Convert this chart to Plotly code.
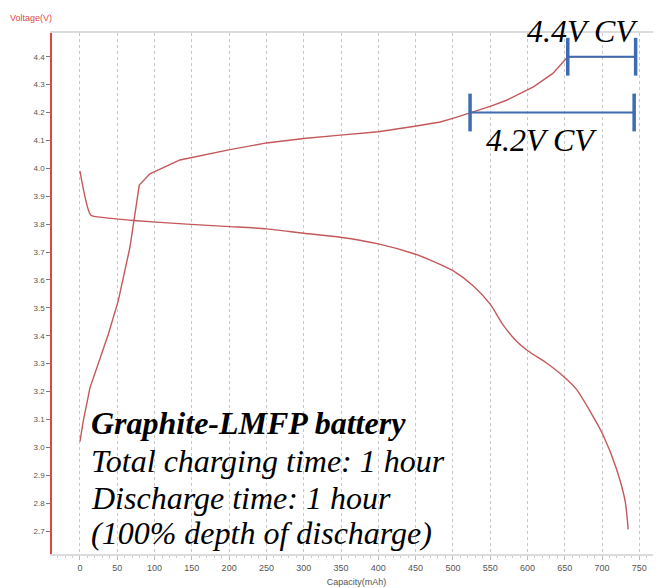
import plotly.graph_objects as go

# Charge curve (capacity mAh, voltage V)
charge_cap = [0, 4.4, 13.4, 26.8, 38, 51.3, 67, 79.5, 93.8, 134, 201, 250, 300, 349, 400,
              449, 483, 500, 523, 550, 572, 608, 634, 654, 700, 745]
charge_v = [3.02, 3.094, 3.213, 3.321, 3.405, 3.525, 3.717, 3.94, 3.98, 4.03, 4.067, 4.091,
            4.107, 4.119, 4.131, 4.151, 4.166, 4.179, 4.198, 4.222, 4.244, 4.292, 4.34, 4.40,
            4.40, 4.40]

# Discharge curve
discharge_cap = [0, 14.3, 26.8, 71.5, 143, 201, 250, 300, 349, 400, 449, 469, 500, 527, 550,
                 567, 585, 601, 625, 648, 666, 684, 701, 719, 731, 735]
discharge_v = [3.99, 3.833, 3.825, 3.813, 3.80, 3.791, 3.783, 3.767, 3.753, 3.729, 3.693,
               3.672, 3.633, 3.579, 3.513, 3.44, 3.381, 3.345, 3.303, 3.255, 3.207, 3.129,
               3.046, 2.925, 2.806, 2.706]

# Constant-voltage phases
cv_labels = ["4.2V CV", "4.4V CV"]
cv_voltage = [4.2, 4.4]
cv_start = [523, 654]
cv_end = [743, 745]

info_lines = ["<b><i>Graphite-LMFP battery</i></b>", "<i>Total charging time: 1 hour</i>",
              "<i>Discharge time: 1 hour</i>", "<i>(100% depth of discharge)</i>"]

x_ticks = list(range(0, 751, 50))
y_ticks = [2.7, 2.8, 2.9, 3.0, 3.1, 3.2, 3.3, 3.4, 3.5, 3.6, 3.7, 3.8, 3.9, 4.0, 4.1, 4.2, 4.3, 4.4]

RED = "#c4585a"
BLUE = "#3d6cb3"

fig = go.Figure()
fig.add_trace(go.Scatter(x=charge_cap, y=charge_v, mode="lines",
                         line=dict(color=RED, width=1.4), showlegend=False))
fig.add_trace(go.Scatter(x=discharge_cap, y=discharge_v, mode="lines", line_shape="spline",
                         line=dict(color=RED, width=1.4, smoothing=0.6), showlegend=False))
for s, e, v in zip(cv_start, cv_end, cv_voltage):
    fig.add_trace(go.Scatter(x=[s, e], y=[v, v], mode="lines+markers",
                             line=dict(color=BLUE, width=2),
                             marker=dict(symbol="line-ns", size=27,
                                         line=dict(color=BLUE, width=3.5)),
                             showlegend=False, cliponaxis=False))

serif = "Liberation Serif"
info_y = [3.087, 2.951, 2.817, 2.692]
for txt, yy in zip(info_lines, info_y):
    fig.add_annotation(x=12, y=yy, xref="x", yref="y", xanchor="left", yanchor="middle",
                       showarrow=False, text=txt,
                       font=dict(family=serif, size=32, color="black"))
fig.add_annotation(x=674, y=1.004, xref="x", yref="paper", xanchor="center", yanchor="middle",
                   showarrow=False, text=f"<i>{cv_labels[1]}</i>",
                   font=dict(family=serif, size=32, color="black"))
fig.add_annotation(x=619, y=4.101, xref="x", yref="y", xanchor="center", yanchor="middle",
                   showarrow=False, text=f"<i>{cv_labels[0]}</i>",
                   font=dict(family=serif, size=32, color="black"))

fig.add_annotation(x=-0.072, y=1.029, xref="paper", yref="paper", xanchor="left",
                   yanchor="middle", showarrow=False, text="Voltage(V)",
                   font=dict(family="Liberation Sans", size=9, color="#e04848"))

# page body has an 8px margin: figure is sized/offset to compensate
fig.update_layout(
    width=653, height=580,
    margin=dict(l=44, r=0, t=25, b=34),
    paper_bgcolor="white", plot_bgcolor="white",
    font=dict(family="Liberation Sans", size=9, color="#555"),
    xaxis=dict(range=[-37.5, 779], tickvals=x_ticks, showgrid=True, gridcolor="#c8c8c8",
               griddash="dot", gridwidth=1, zeroline=False, showline=True, linecolor="#dcdcdc",
               linewidth=2, mirror=True, ticks="outside", ticklen=4, tickcolor="#bbb",
               automargin=False,
               minor=dict(dtick=10, ticks="outside", ticklen=2, tickcolor="#ccc", showgrid=False),
               title=dict(text="Capacity(mAh)", font=dict(size=9, color="#555"), standoff=7),
               tickfont=dict(size=9, color="#555")),
    yaxis=dict(range=[2.6176, 4.485], tickvals=y_ticks, tickformat=".1f", showgrid=False,
               zeroline=False, showline=True, linecolor="#e04444", linewidth=1.5,
               ticks="outside", ticklen=4, tickcolor="#777", automargin=False,
               tickfont=dict(size=8, color="#555")),
)

fig.write_html("out.html")
